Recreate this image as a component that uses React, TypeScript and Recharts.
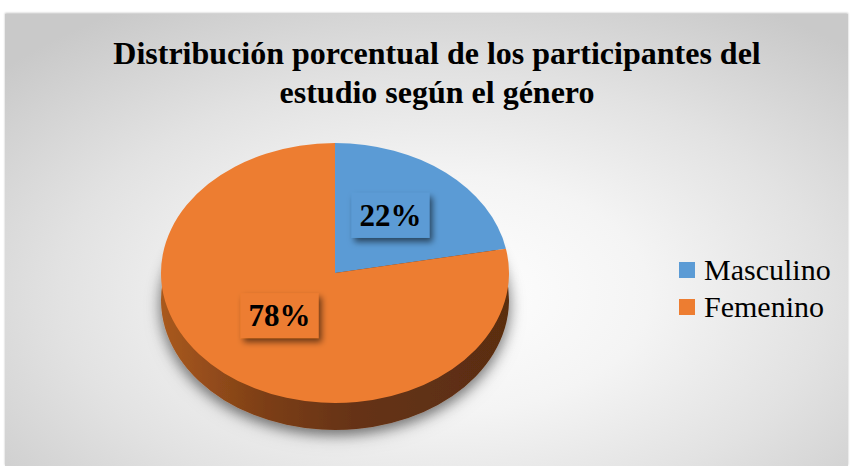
import { PieChart, Pie, Cell, Legend } from "recharts"

const categories = ["Masculino", "Femenino"]
const percents = [22, 78]
const colors = ["#5B9BD5", "#ED7D31"]
const titleLines = ["Distribución porcentual de los participantes del", "estudio según el género"]

const data = categories.map((name, i) => ({ name, value: percents[i] }))

const W = 853
const H = 466
const CX = 335
const CY = 273
const R = 174
const TILT = 0.747
const DEPTH = 27
const SERIF = '"Liberation Serif", "Times New Roman", serif'

const css = `
.pie-face .recharts-sector { transform-origin: 0px ${CY}px; transform: scaleY(${TILT}); }
.pie-rim .recharts-sector { transform-origin: 0px ${CY + DEPTH}px; transform: scaleY(${TILT}); }
.pie-rim { filter: url(#pieShadow); }
`

const renderLabel = (p: any) => {
  const rad = Math.PI / 180
  const r = p.outerRadius * 0.5
  const x = p.cx + r * Math.cos(-p.midAngle * rad)
  // the reference's perspective puts the apex a little above the ellipse centre
  const y = p.cy + r * Math.sin(-p.midAngle * rad) * TILT - 8
  return (
    <g>
      <rect x={x - 39} y={y - 22} width={78} height={45} fill={colors[p.index]} filter="url(#lblShadow)" />
      <text x={x} y={y + 11} textAnchor="middle" fontFamily={SERIF} fontWeight={700} fontSize={31} fill="#000">
        {`${percents[p.index]}%`}
      </text>
    </g>
  )
}

const renderLegend = (props: any) => {
  const items = (props.payload || [])
    .filter((e: any) => e.type !== "none")
    .sort((a: any, b: any) => categories.indexOf(a.value) - categories.indexOf(b.value))
  return (
    <div>
      {items.map((e: any, i: number) => (
        <div key={i} style={{ display: "flex", alignItems: "center", height: 37 }}>
          <span style={{ width: 16, height: 16, background: e.color, display: "inline-block", marginRight: 9 }} />
          <span style={{ fontFamily: SERIF, fontSize: 30, color: "#000", lineHeight: "37px" }}>{e.value}</span>
        </div>
      ))}
    </div>
  )
}

export default function App() {
  return (
    <div style={{ position: "absolute", left: 0, top: 0, width: W, height: H, background: "#fff", overflow: "hidden" }}>
      <style>{css}</style>
      <svg width={0} height={0} style={{ position: "absolute" }}>
        <defs>
          <linearGradient id="rimGrad" gradientUnits="userSpaceOnUse" x1={CX - R} y1={0} x2={CX + R} y2={0}>
            <stop offset="0%" stopColor="#a9591f" />
            <stop offset="30%" stopColor="#7c3e16" />
            <stop offset="55%" stopColor="#663314" />
            <stop offset="100%" stopColor="#5a2d11" />
          </linearGradient>
          <filter id="pieShadow" x="-20%" y="-20%" width="140%" height="160%">
            <feGaussianBlur in="SourceAlpha" stdDeviation="7" />
            <feOffset dx="0" dy="6" result="b" />
            <feFlood floodColor="#000" floodOpacity="0.3" />
            <feComposite in2="b" operator="in" />
            <feMerge>
              <feMergeNode />
              <feMergeNode in="SourceGraphic" />
            </feMerge>
          </filter>
          <filter id="lblShadow" x="-30%" y="-30%" width="160%" height="180%">
            <feDropShadow dx="3" dy="4" stdDeviation="3" floodColor="#000" floodOpacity="0.55" />
          </filter>
        </defs>
      </svg>
      <div
        style={{
          position: "absolute",
          left: 5,
          top: 14,
          width: 843,
          height: 452,
          background: "radial-gradient(ellipse 70% 75% at 52% 62%, #ffffff 0%, #f4f4f4 35%, #e2e2e2 65%, #c9c9c9 100%)",
          boxShadow: "0 -1px 2px rgba(0,0,0,0.25)",
        }}
      />
      <div style={{ position: "absolute", left: 0, top: 0 }}>
        <PieChart width={W} height={H} margin={{ top: 0, right: 0, bottom: 0, left: 0 }}>
          <Pie
            data={data}
            dataKey="value"
            nameKey="name"
            cx={CX}
            cy={CY + DEPTH}
            outerRadius={R}
            startAngle={90}
            endAngle={-270}
            stroke="none"
            legendType="none"
            className="pie-rim"
            isAnimationActive={false}
          >
            {data.map((d) => (
              <Cell key={d.name} fill="url(#rimGrad)" />
            ))}
          </Pie>
          <Pie
            data={data}
            dataKey="value"
            nameKey="name"
            cx={CX}
            cy={CY}
            outerRadius={R}
            startAngle={90}
            endAngle={-270}
            stroke="none"
            className="pie-face"
            label={renderLabel}
            labelLine={false}
            isAnimationActive={false}
          >
            {data.map((d, i) => (
              <Cell key={d.name} fill={colors[i]} />
            ))}
          </Pie>
          <Legend
            layout="vertical"
            align="right"
            verticalAlign="middle"
            content={renderLegend}
            wrapperStyle={{ left: 679, top: 251, width: 170 }}
          />
        </PieChart>
      </div>
      <div
        style={{
          position: "absolute",
          left: 0,
          top: 34,
          width: 874,
          textAlign: "center",
          fontFamily: SERIF,
          fontWeight: 700,
          fontSize: 32,
          lineHeight: "39px",
          color: "#000",
        }}
      >
        {titleLines.map((t) => (
          <div key={t}>{t}</div>
        ))}
      </div>
    </div>
  )
}
